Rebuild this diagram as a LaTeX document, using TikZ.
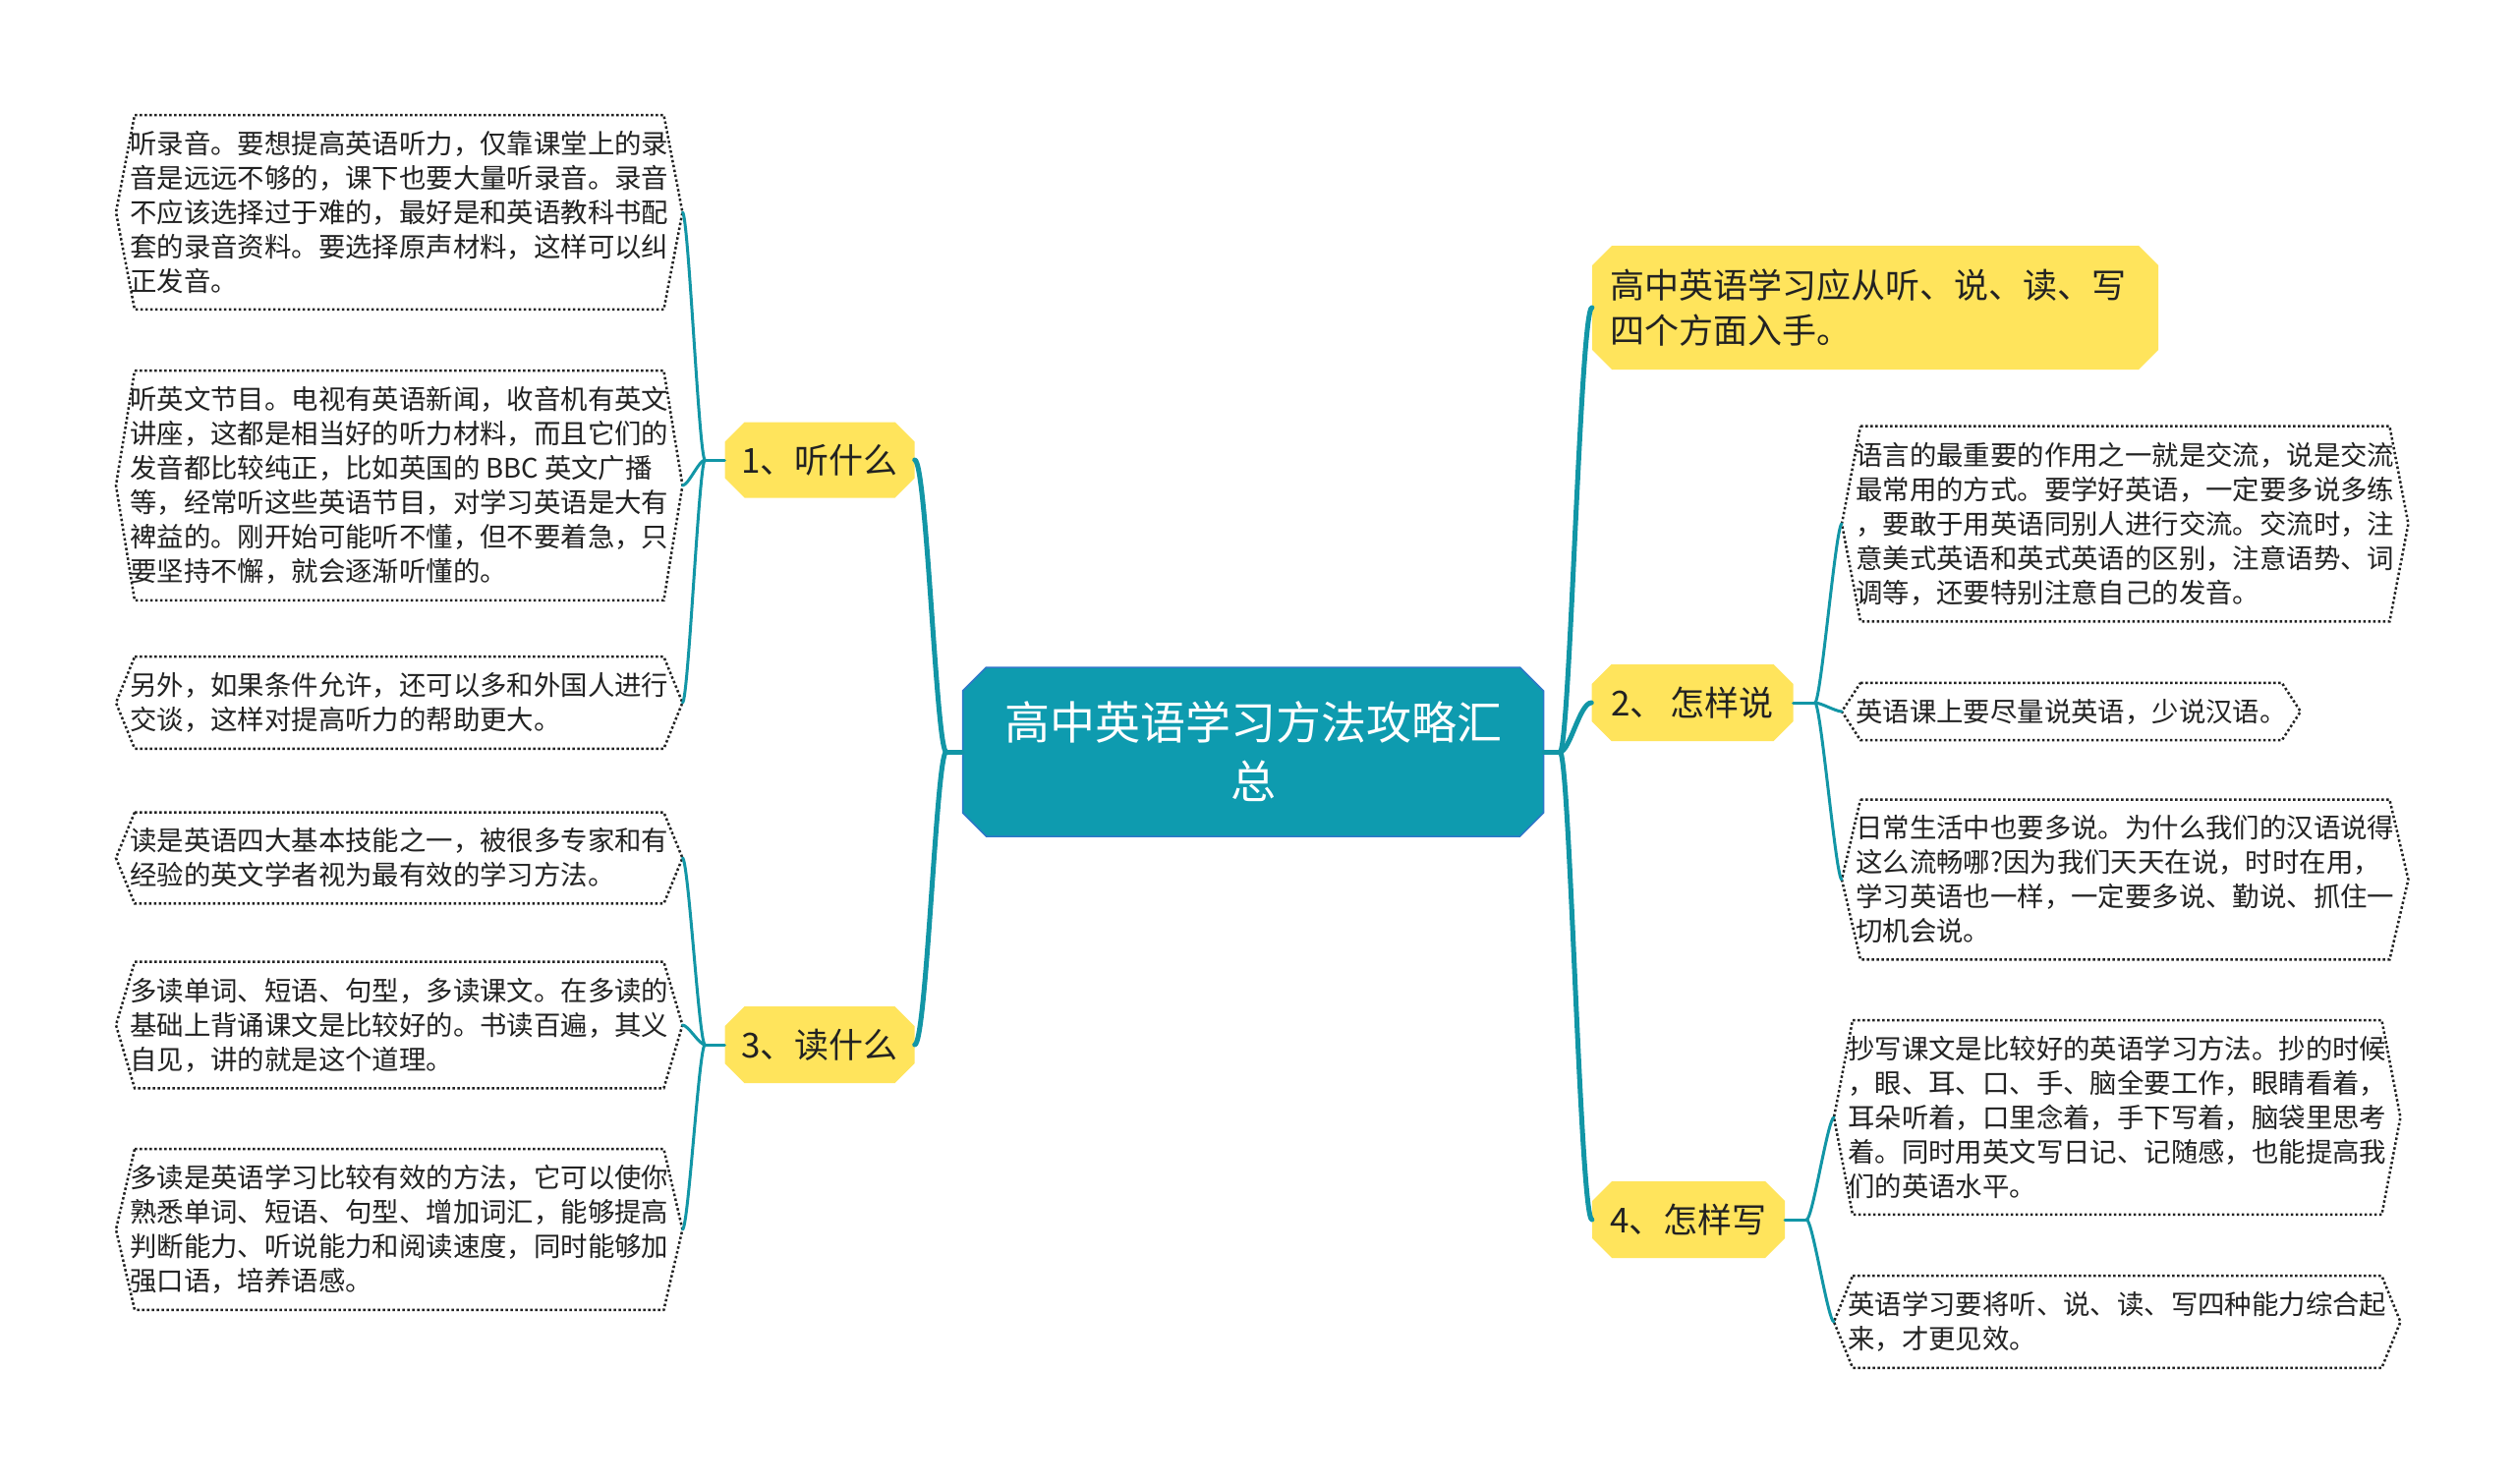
\documentclass[tikz,border=0pt]{standalone}
\usepackage{fontspec}
\newfontfamily\cjk{Noto Sans CJK SC}
\usetikzlibrary{shapes.misc,calc}
\definecolor{linkteal}{RGB}{18,150,166}
\definecolor{rootfill}{RGB}{14,155,175}
\definecolor{rootedge}{RGB}{45,120,200}
\definecolor{branchyellow}{RGB}{255,228,92}
\definecolor{inkdark}{RGB}{34,34,34}
\newcommand\leafframe[1]{\draw[leafline] ([xshift=19pt]#1.north west) -- ([xshift=-19pt]#1.north east) -- (#1.east) -- ([xshift=-19pt]#1.south east) -- ([xshift=19pt]#1.south west) -- (#1.west) -- cycle;}
\tikzset{
  rootbox/.style={chamfered rectangle, chamfered rectangle xsep=12pt, chamfered rectangle ysep=12pt,
    fill=rootfill, draw=rootedge, line width=1.5pt, text=white, align=center,
    font={\cjk\fontsize{46}{60}\selectfont}, inner sep=0pt},
  branchbox/.style={chamfered rectangle, chamfered rectangle xsep=10pt, chamfered rectangle ysep=10pt,
    fill=branchyellow, draw=none, text=inkdark, font={\cjk\fontsize{35}{46}\selectfont}, inner sep=0pt},
  leafbox/.style={anchor=west, align=left, inner xsep=14pt, inner ysep=16pt, text=inkdark,
    font={\cjk\fontsize{27.4}{35}\selectfont}},
  leafline/.style={draw=inkdark, line width=2.5pt, dash pattern=on 2.5pt off 2.5pt},
  mainlink/.style={draw=linkteal, line width=5pt, line cap=round},
  leaflink/.style={draw=linkteal, line width=3pt, line cap=round},
}
\begin{document}
\begin{tikzpicture}[x=1pt,y=-1pt]
\fill[white] (0,0) rectangle (2560,1510);
\useasboundingbox (0,0) rectangle (2560,1510);

% root
\node[rootbox, minimum width=591pt, minimum height=172pt] (root) at (1275,765) {高中英语学习方法攻略汇\\总};

% branches
\node[branchbox, minimum width=193pt, minimum height=77pt] (b1) at (834,468) {1、听什么};
\node[branchbox, minimum width=193pt, minimum height=78pt] (b3) at (834,1063) {3、读什么};
\node[branchbox, minimum width=576pt, minimum height=126pt, align=left, text width=540pt] (b0) at (1908,313) {高中英语学习应从听、说、读、写\\四个方面入手。};
\node[branchbox, minimum width=205pt, minimum height=78pt] (b2) at (1722,715) {2、\,怎样说};
\node[branchbox, minimum width=196pt, minimum height=78pt] (b4) at (1718,1241) {4、怎样写};

% leaves left
\node[leafbox] (l1) at (118,216) {听录音。要想提高英语听力，仅靠课堂上的录\\音是远远不够的，课下也要大量听录音。录音\\不应该选择过于难的，最好是和英语教科书配\\套的录音资料。要选择原声材料，这样可以纠\\正发音。};
\node[leafbox] (l2) at (118,494) {听英文节目。电视有英语新闻，收音机有英文\\讲座，这都是相当好的听力材料，而且它们的\\发音都比较纯正，比如英国的 BBC 英文广播\\等，经常听这些英语节目，对学习英语是大有\\裨益的。刚开始可能听不懂，但不要着急，只\\要坚持不懈，就会逐渐听懂的。};
\node[leafbox] (l3) at (118,715) {另外，如果条件允许，还可以多和外国人进行\\交谈，这样对提高听力的帮助更大。};
\node[leafbox] (r1) at (118,873) {读是英语四大基本技能之一，被很多专家和有\\经验的英文学者视为最有效的学习方法。};
\node[leafbox] (r2) at (118,1043) {多读单词、短语、句型，多读课文。在多读的\\基础上背诵课文是比较好的。书读百遍，其义\\自见，讲的就是这个道理。};
\node[leafbox] (r3) at (118,1251) {多读是英语学习比较有效的方法，它可以使你\\熟悉单词、短语、句型、增加词汇，能够提高\\判断能力、听说能力和阅读速度，同时能够加\\强口语，培养语感。};

% leaves right
\node[leafbox] (s1) at (1874,533) {语言的最重要的作用之一就是交流，说是交流\\最常用的方式。要学好英语，一定要多说多练\\，要敢于用英语同别人进行交流。交流时，注\\意美式英语和英式英语的区别，注意语势、词\\调等，还要特别注意自己的发音。};
\node[leafbox] (s2) at (1874,724) {英语课上要尽量说英语，少说汉语。};
\node[leafbox] (s3) at (1874,895) {日常生活中也要多说。为什么我们的汉语说得\\这么流畅哪?因为我们天天在说，时时在用，\\学习英语也一样，一定要多说、勤说、抓住一\\切机会说。};
\node[leafbox] (w1) at (1866,1137) {抄写课文是比较好的英语学习方法。抄的时候\\，眼、耳、口、手、脑全要工作，眼睛看着，\\耳朵听着，口里念着，手下写着，脑袋里思考\\着。同时用英文写日记、记随感，也能提高我\\们的英语水平。};
\node[leafbox] (w2) at (1866,1345) {英语学习要将听、说、读、写四种能力综合起\\来，才更见效。};

\foreach \n in {l1,l2,l3,r1,r2,r3,s1,s2,s3,w1,w2}{\leafframe{\n}}

% main links
\draw[mainlink] (root.west) -- ++(-16,0) coordinate (rl);
\draw[mainlink] (root.east) -- ++(16,0) coordinate (rr);
\draw[mainlink] (rl) .. controls +(-10,0) and +(12,0) .. (b1.east);
\draw[mainlink] (rl) .. controls +(-10,0) and +(12,0) .. (b3.east);
\draw[mainlink] (rr) .. controls +(10,0) and +(-12,0) .. (b0.west);
\draw[mainlink] (rr) .. controls +(10,0) and +(-12,0) .. (b2.west);
\draw[mainlink] (rr) .. controls +(10,0) and +(-12,0) .. (b4.west);

% leaf links
\draw[leaflink] (b1.west) -- ++(-20,0) coordinate (a1);
\draw[leaflink] (b3.west) -- ++(-20,0) coordinate (a3);
\draw[leaflink] (b2.east) -- ++(22,0) coordinate (a2);
\draw[leaflink] (b4.east) -- ++(22,0) coordinate (a4);
\foreach \t in {l1,l2,l3}{\draw[leaflink] (a1) .. controls +(-6,0) and +(6,0) .. (\t.east);}
\foreach \t in {r1,r2,r3}{\draw[leaflink] (a3) .. controls +(-6,0) and +(6,0) .. (\t.east);}
\foreach \t in {s1,s2,s3}{\draw[leaflink] (a2) .. controls +(6,0) and +(-6,0) .. (\t.west);}
\foreach \t in {w1,w2}{\draw[leaflink] (a4) .. controls +(6,0) and +(-6,0) .. (\t.west);}
\end{tikzpicture}
\end{document}
